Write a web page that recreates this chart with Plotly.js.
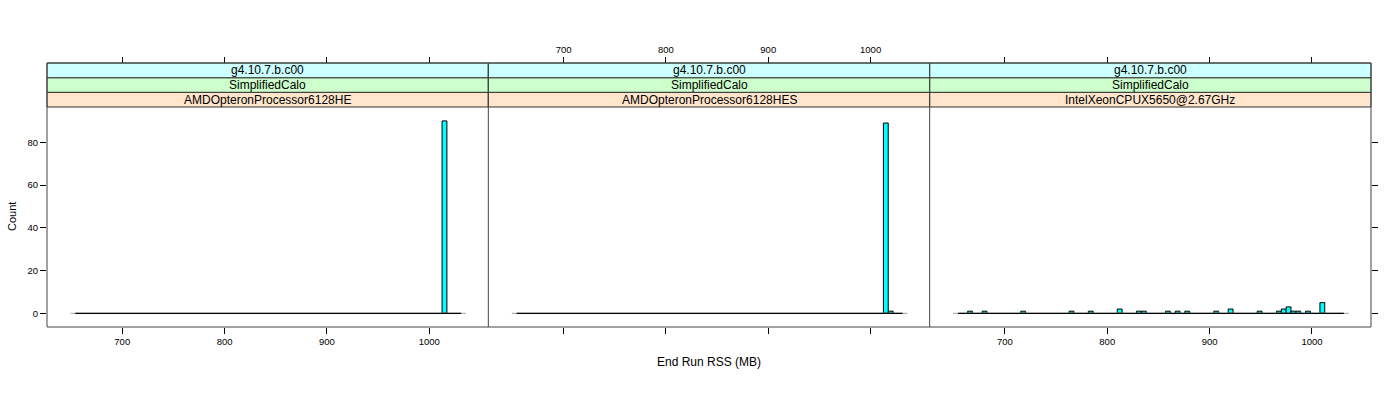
<!DOCTYPE html>
<html><head><meta charset="utf-8">
<script src="https://cdn.plot.ly/plotly-3.0.1.min.js"></script>
<style>body{margin:0;background:#fff}</style>
</head><body><div id="chart" style="width:1400px;height:400px"></div>
<script>
// ---- data ----
const panelNames = ["AMDOpteronProcessor6128HE", "AMDOpteronProcessor6128HES", "IntelXeonCPUX5650@2.67GHz"];
const stripVersion = "g4.10.7.b.c00";
const stripModel = "SimplifiedCalo";
const binWidth = 4.715;
const binRange = [654.2, 1031.2];
const binRangeOuter = [649.5, 1035.9];
const p1Edges = [1012.5];
const p1Counts = [90];
const p2Edges = [1012.5, 1017.3];
const p2Counts = [89, 1];
const p3Edges = [663.6, 677.8, 715.5, 762.7, 781.5, 809.8, 828.6, 833.4, 856.9, 866.4, 875.8, 904.1, 918.2, 946.5, 965.4, 970.1, 974.8, 979.5, 984.3, 993.7, 1007.8];
const p3Counts = [1, 1, 1, 1, 1, 2, 1, 1, 1, 1, 1, 1, 2, 1, 1, 2, 3, 1, 1, 1, 5];
const xTicks = [700, 800, 900, 1000];
const yTicks = [0, 20, 40, 60, 80];
const xTitle = "End Run RSS (MB)";
const yTitle = "Count";

// ---- build ----
const FONT = "Liberation Sans, Arial, sans-serif";
const panels = [[p1Edges, p1Counts], [p2Edges, p2Counts], [p3Edges, p3Counts]];
const traces = [];
panels.forEach((p, i) => {
  const xa = i === 0 ? 'x' : 'x' + (i + 1);
  traces.push({type: 'scatter', mode: 'lines', x: binRangeOuter, y: [0, 0], xaxis: xa, yaxis: 'y',
    line: {color: '#b0b0b0', width: 1.2}, hoverinfo: 'skip', showlegend: false});
  traces.push({type: 'scatter', mode: 'lines', x: binRange, y: [0, 0], xaxis: xa, yaxis: 'y',
    line: {color: '#000', width: 1.2}, hoverinfo: 'skip', showlegend: false});
  traces.push({type: 'bar', x: p[0], y: p[1], width: binWidth, offset: 0, xaxis: xa, yaxis: 'y',
    marker: {color: '#00FFFF', line: {color: '#000', width: 1}}, showlegend: false});
});
// empty traces so the mirrored tick axes get drawn
['x4', 'x5', 'x6'].forEach(xa => traces.push({type: 'scatter', mode: 'markers', x: [null], y: [null],
  xaxis: xa, yaxis: 'y', hoverinfo: 'skip', showlegend: false}));
traces.push({type: 'scatter', mode: 'markers', x: [null], y: [null], xaxis: 'x3', yaxis: 'y2',
  hoverinfo: 'skip', showlegend: false});

const xr = [626.5, 1057.7];
function xax(dom, labels, extra) {
  return Object.assign({domain: dom, range: xr, tickvals: xTicks, ticks: 'outside', ticklen: 6, tickwidth: 1,
    tickcolor: '#000', showticklabels: labels, showgrid: false, zeroline: false, showline: false,
    tickfont: {family: FONT, size: 9.5, color: '#000'}, fixedrange: true}, extra || {});
}
const yTop = 0.8333;
const layout = {
  width: 1400, height: 400,
  margin: {l: 47, r: 29, t: 63, b: 73},
  paper_bgcolor: '#fff', plot_bgcolor: 'rgba(0,0,0,0)',
  barmode: 'overlay',
  xaxis: xax([0, 1/3], true, {anchor: 'y'}),
  xaxis2: xax([1/3, 2/3], false, {anchor: 'y'}),
  xaxis3: xax([2/3, 1], true, {anchor: 'y'}),
  xaxis4: xax([0, 1/3], false, {overlaying: 'x', side: 'top', anchor: 'free', position: 1}),
  xaxis5: xax([1/3, 2/3], true, {overlaying: 'x2', side: 'top', anchor: 'free', position: 1}),
  xaxis6: xax([2/3, 1], false, {overlaying: 'x3', side: 'top', anchor: 'free', position: 1}),
  yaxis: {domain: [0, yTop], range: [-6.4, 96.5], tickvals: yTicks, ticks: 'outside', ticklen: 6, tickcolor: '#000',
    showgrid: false, zeroline: false, showline: false, anchor: 'x',
    tickfont: {family: FONT, size: 9.5, color: '#000'}, fixedrange: true},
  yaxis2: {domain: [0, yTop], range: [-6.4, 96.5], tickvals: yTicks, ticks: 'outside', ticklen: 6, tickcolor: '#000',
    showgrid: false, zeroline: false, showline: false, overlaying: 'y', side: 'right', anchor: 'x3',
    showticklabels: false, fixedrange: true},
  shapes: [], annotations: []
};
const stripBounds = [[yTop, 0.889], [0.889, 0.9443], [0.9443, 1]];
const stripColors = ['#FFE5CC', '#CCFFCC', '#CCFFFF'];
for (let i = 0; i < 3; i++) {
  const x0 = i / 3, x1 = (i + 1) / 3;
  const texts = [panelNames[i], stripModel, stripVersion];
  for (let s = 0; s < 3; s++) {
    layout.shapes.push({type: 'rect', xref: 'paper', yref: 'paper', x0: x0, x1: x1,
      y0: stripBounds[s][0], y1: stripBounds[s][1], fillcolor: stripColors[s],
      line: {color: '#333', width: 1}, layer: 'above'});
    layout.annotations.push({xref: 'paper', yref: 'paper', x: (x0 + x1) / 2,
      y: (stripBounds[s][0] + stripBounds[s][1]) / 2, text: texts[s], showarrow: false,
      xanchor: 'center', yanchor: 'middle', font: {family: FONT, size: 12, color: '#000'}});
  }
}
layout.shapes.push({type: 'rect', xref: 'paper', yref: 'paper', x0: 0, x1: 1, y0: 0, y1: 1,
  line: {color: '#444', width: 1}, layer: 'above'});
[1/3, 2/3].forEach(v => layout.shapes.push({type: 'line', xref: 'paper', yref: 'paper', x0: v, x1: v, y0: 0, y1: 1,
  line: {color: '#444', width: 1}, layer: 'above'}));
layout.annotations.push({xref: 'paper', yref: 'paper', x: 0.5, y: -0.1326, text: xTitle, showarrow: false,
  xanchor: 'center', yanchor: 'middle', font: {family: FONT, size: 12, color: '#000'}});
layout.annotations.push({xref: 'paper', yref: 'paper', x: -0.0264, y: 0.4167, text: yTitle, showarrow: false,
  textangle: -90, xanchor: 'center', yanchor: 'middle', font: {family: FONT, size: 11, color: '#000'}});

Plotly.newPlot('chart', traces, layout, {displayModeBar: false, staticPlot: true});
</script></body></html>
